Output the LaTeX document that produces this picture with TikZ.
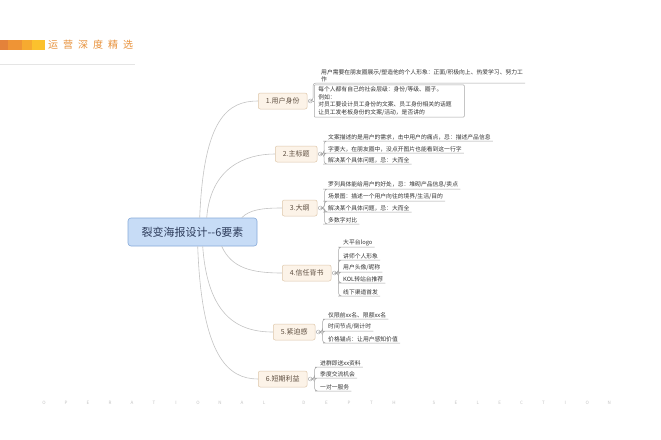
\documentclass[tikz,border=0pt]{standalone}
\usepackage{fontspec}
\setmainfont{Noto Sans CJK SC}
\newfontfamily\hdrfont[LetterSpace=50]{Noto Sans CJK SC}
\usetikzlibrary{calc}
\definecolor{hA}{HTML}{E4823A}
\definecolor{hB}{HTML}{EF9435}
\definecolor{hC}{HTML}{F6AA30}
\definecolor{hD}{HTML}{FBC12D}
\definecolor{hdrC}{HTML}{E8913A}
\definecolor{brFill}{HTML}{FCF3E8}
\definecolor{brBorder}{HTML}{DEC7AA}
\definecolor{brText}{HTML}{5E4E40}
\definecolor{rootFill}{HTML}{C7DCF6}
\definecolor{rootBorder}{HTML}{86AADA}
\definecolor{rootText}{HTML}{2E3D5C}
\definecolor{mainC}{HTML}{C4C4C4}
\definecolor{connC}{HTML}{A6A6A6}
\definecolor{leafText}{HTML}{333333}
\definecolor{footC}{HTML}{C4C4C4}
\begin{document}
\begin{tikzpicture}[x=1pt,y=-1pt,
  rootbox/.style={draw=rootBorder, fill=rootFill, rounded corners=3pt, text=rootText,
    font=\fontsize{11}{13}\selectfont, minimum width=129pt, minimum height=28pt, inner sep=0pt, line width=0.6pt},
  branchbox/.style={draw=brBorder, fill=brFill, rounded corners=2pt, text=brText,
    font=\fontsize{7}{8}\selectfont, inner xsep=7.5pt, inner ysep=0pt, minimum height=16pt, anchor=west, line width=0.5pt},
  knob/.style={circle, draw=connC, fill=white, inner sep=0pt, minimum size=4pt, line width=0.4pt},
  leaf/.style={anchor=south west, inner xsep=2pt, inner ysep=1pt, font=\fontsize{5.8}{7}\selectfont, text=leafText, align=left},
  leafbox/.style={anchor=west, draw=connC, rounded corners=1pt, inner xsep=4pt, inner ysep=2pt, text width=142pt,
    font=\fontsize{5.8}{7.5}\selectfont, text=leafText, align=left, line width=0.5pt},
  conn/.style={draw=connC, line width=0.5pt, rounded corners=3pt},
  mainline/.style={draw=mainC, line width=0.6pt},
  foot/.style={font=\fontsize{4.5}{5}\selectfont, text=footC, inner sep=0pt}
]
\useasboundingbox (0,0) rectangle (661,439);
\fill[white] (0,0) rectangle (661,439);

% header
\fill[hA] (0,40) rectangle (8,50);
\fill[hB] (8,40) rectangle (22,50);
\fill[hC] (22,40) rectangle (32,50);
\fill[hD] (32,40) rectangle (45,50);
\node[anchor=west, inner sep=0pt, text=hdrC, font=\hdrfont\fontsize{10}{12}\selectfont] (hdr) at (48,45) {运营深度精选};
\draw[draw=black!10, line width=0.5pt] (0,64) -- (135,64);

% root
\node[rootbox] (root) at (192.5,232) {裂变海报设计{-}{-}6要素};

% branches
\node[branchbox] (b1) at (258,101) {1.用户身份};
\node[branchbox] (b2) at (275,154) {2.主标题};
\node[branchbox] (b3) at (282,208) {3.大纲};
\node[branchbox] (b4) at (282,273) {4.信任背书};
\node[branchbox] (b5) at (273,332) {5.紧迫感};
\node[branchbox] (b6) at (258,379) {6.短期利益};

% main curves
\draw[mainline] ($(root.north west)+(72,0)$) .. controls +(4,-100) and +(-30,0) .. (b1.west);
\draw[mainline] ($(root.north west)+(79,0)$) .. controls +(4,-50) and +(-30,0) .. (b2.west);
\draw[mainline] ($(root.north west)+(114,0)$) .. controls +(8,-8) and +(-20,0) .. (b3.west);
\draw[mainline] ($(root.south west)+(94,0)$) .. controls +(10,22) and +(-30,0) .. (b4.west);
\draw[mainline] ($(root.south west)+(75,0)$) .. controls +(5,70) and +(-35,0) .. (b5.west);
\draw[mainline] ($(root.south west)+(70,0)$) .. controls +(4,110) and +(-30,0) .. (b6.west);

% knobs
\foreach \b in {1,...,6} \node[knob] (k\b) at ($(b\b.east)+(3,0)$) {};

% branch 1 leaves
\node[leaf] (c11) at (319,83) {用户需要在朋友圈展示/塑造他的个人形象：正面/积极向上、热爱学习、努力工\\作};
\node[leafbox] (c12) at (314,101) {每个人都有自己的社会层级：身份/等级、圈子。\\例如：\\对员工要设计员工身份的文案、员工身份相关的话题\\让员工发老板身份的文案/活动，是否讲的};
\draw[conn] (k1.east) -- (313,101) -- (313,83) -- (c11.south east);
\draw[conn] (k1.east) -- (c12.west);

% branch 2 leaves
\node[leaf] (c21) at (326,141) {文案描述的是用户的需求，击中用户的痛点，忌：描述产品信息};
\node[leaf] (c22) at (326,153) {字要大，在朋友圈中，没点开图片也能看到这一行字};
\node[leaf] (c23) at (326,164) {解决某个具体问题，忌：大而全};
\foreach \c in {c21,c22,c23}
  \draw[conn] (k2.east) -- ($(k2.east)+(1.5,0)$) |- (\c.south west) -- (\c.south east);

% branch 3 leaves
\node[leaf] (c31) at (326,189) {罗列具体能给用户的好处，忌：堆砌产品信息/卖点};
\node[leaf] (c32) at (326,201) {场景图：描述一个用户向往的境界/生活/目的};
\node[leaf] (c33) at (326,212) {解决某个具体问题，忌：大而全};
\node[leaf] (c34) at (326,224) {多数字对比};
\foreach \c in {c31,c32,c33,c34}
  \draw[conn] (k3.east) -- ($(k3.east)+(2,0)$) |- (\c.south west) -- (\c.south east);

% branch 4 leaves
\node[leaf] (c41) at (341,247) {大平台logo};
\node[leaf] (c42) at (341,260) {讲师个人形象};
\node[leaf] (c43) at (341,272) {用户头像/昵称};
\node[leaf] (c44) at (341,283) {KOL转站台推荐};
\node[leaf] (c45) at (341,296) {线下渠道首发};
\foreach \c in {c41,c42,c43,c44,c45}
  \draw[conn] (k4.east) -- ($(k4.east)+(2,0)$) |- (\c.south west) -- (\c.south east);

% branch 5 leaves
\node[leaf] (c51) at (326,319) {仅限前xx名、限额xx名};
\node[leaf] (c52) at (326,331) {时间节点/倒计时};
\node[leaf] (c53) at (326,343) {价格锚点：让用户感知价值};
\foreach \c in {c51,c52,c53}
  \draw[conn] (k5.east) -- ($(k5.east)+(2,0)$) |- (\c.south west) -- (\c.south east);

% branch 6 leaves
\node[leaf] (c61) at (318,367) {进群即送xx资料};
\node[leaf] (c62) at (318,378) {季度交流机会};
\node[leaf] (c63) at (318,391) {一对一服务};
\foreach \c in {c61,c62,c63}
  \draw[conn] (k6.east) -- ($(k6.east)+(2,0)$) |- (\c.south west) -- (\c.south east);

% footer
\foreach \ch [count=\i from 0] in {O,P,E,R,A,T,I,O,N,A,L}
  \node[foot] (fa\i) at (44+22*\i,403) {\ch};
\foreach \ch [count=\i from 0] in {D,E,P,T,H}
  \node[foot] (fb\i) at (304+22.5*\i,403) {\ch};
\foreach \ch [count=\i from 0] in {S,E,L,E,C,T,I,O,N}
  \node[foot] (fc\i) at (434+21.9*\i,403) {\ch};
\end{tikzpicture}
\end{document}
